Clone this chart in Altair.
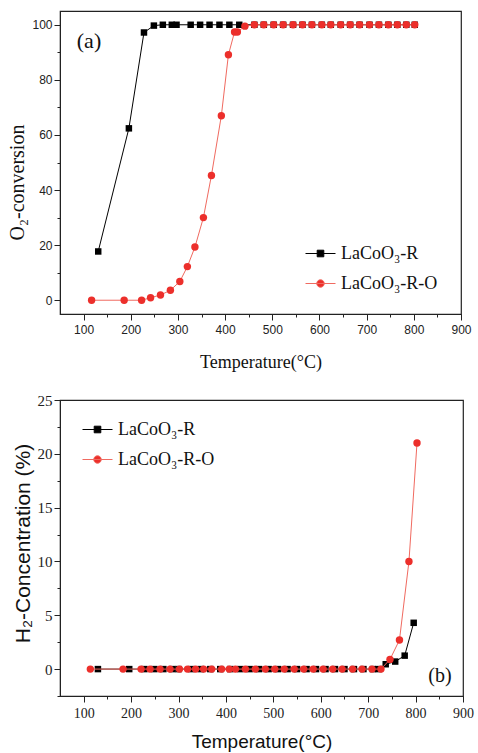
import altair as alt
import pandas as pd

SERIES = ["LaCoO₃-R", "LaCoO₃-R-O"]

# Panel (a): O2 conversion
a_r_temp = [131, 196, 228, 249, 268, 287, 297, 327, 347, 367, 388, 409, 430,
            462, 482, 503, 523, 544, 564, 584, 605, 624, 645, 665, 685, 706, 726, 746, 765, 784, 802]
a_r_conv = [17.7, 62.4, 97.2, 99.7, 100, 100, 100, 100, 100, 100, 100, 100, 100,
            100, 100, 100, 100, 100, 100, 100, 100, 100, 100, 100, 100, 100, 100, 100, 100, 100, 100]
a_ro_temp = [117, 186, 223, 242, 263, 284, 304, 320, 336, 354, 371, 392, 407, 420, 426, 442,
             462, 482, 503, 523, 544, 564, 584, 605, 624, 645, 665, 685, 706, 726, 746, 765, 784, 802]
a_ro_conv = [0, 0, 0, 0.9, 1.9, 3.6, 6.8, 12.2, 19.3, 30.0, 45.3, 67.0, 89.1, 97.4, 97.4, 99.5,
             100, 100, 100, 100, 100, 100, 100, 100, 100, 100, 100, 100, 100, 100, 100, 100, 100, 100]

# Panel (b): H2 concentration
b_r_temp = [130, 196, 228, 249, 268, 287, 300, 327, 347, 367, 388, 409, 430, 450, 470, 490,
            510, 530, 550, 570, 590, 610, 630, 650, 670, 690, 710, 722, 737, 757, 777, 796]
b_r_conc = [0, 0, 0, 0, 0, 0, 0, 0, 0, 0, 0, 0, 0, 0, 0, 0,
            0, 0, 0, 0, 0, 0, 0, 0, 0, 0, 0, 0, 0.45, 0.7, 1.25, 4.3]
b_ro_temp = [114, 183, 221, 240, 261, 282, 302, 319, 336, 353, 370, 391, 407, 420, 441, 462, 483,
             503, 523, 544, 564, 584, 605, 625, 645, 667, 687, 708, 727, 746, 766, 786, 803]
b_ro_conc = [0, 0, 0, 0, 0, 0, 0, 0, 0, 0, 0, 0, 0, 0, 0, 0, 0,
             0, 0, 0, 0, 0, 0, 0, 0, 0, 0, 0, 0, 0.9, 2.7, 10.0, 21.0]

x_major = [100, 200, 300, 400, 500, 600, 700, 800, 900]
x_minor = [150, 250, 350, 450, 550, 650, 750, 850]
ya_major = [0, 20, 40, 60, 80, 100]
ya_minor = [10, 30, 50, 70, 90]
yb_major = [0, 5, 10, 15, 20, 25]
yb_minor = [-2.5, 2.5, 7.5, 12.5, 17.5, 22.5]

SERIF = "Liberation Serif"
SANS = "Liberation Sans"
BLACK = "#000000"
RED = "#ec2f2b"
RED_LINE = "#f06a60"

SQ_PATH = "M-1,0H1M-0.22,-0.22H0.22V0.22H-0.22Z"
CI_PATH = "M-1,0H1M0.25,0A0.25,0.25 0 1,1 -0.25,0A0.25,0.25 0 1,1 0.25,0Z"


def frame(t, v):
    return pd.DataFrame({"T": t, "V": v})


def make_panel(r_t, r_v, ro_t, ro_v, ydom, ymaj, ymin, w, h, xtitle, ytitle,
               xfont, yfont, tickfont, xtsize, ytsize, ttlsize, ytitle_pad, xtitle_pad,
               legend_x, legend_y, legend_size, tag, tag_x, tag_y, tag_size, ytitle_y):
    xs = alt.Scale(domain=[50, 900], nice=False, zero=False)
    ys = alt.Scale(domain=ydom, nice=False, zero=False)
    color_scale = alt.Scale(domain=SERIES, range=[BLACK, RED])
    dr = frame(r_t, r_v).assign(S=SERIES[0])
    dro = frame(ro_t, ro_v).assign(S=SERIES[1])
    dall = pd.concat([dr, dro], ignore_index=True)

    legend = alt.Legend(
        title=None, orient="none", legendX=legend_x, legendY=legend_y,
        symbolSize=legend_size, symbolStrokeWidth=1, labelFont=SERIF,
        labelFontSize=18, labelColor="#111", labelOffset=5, rowPadding=5,
    )

    x_major_ax = alt.Axis(values=x_major, title=xtitle, titleFont=xfont, titleFontSize=ttlsize,
                          titleFontWeight="normal", titleColor="#111", titlePadding=xtitle_pad,
                          labelFont=tickfont, labelFontSize=xtsize, labelColor="#222",
                          tickSize=6, tickColor="#222", domainColor="#222", grid=False,
                          orient="bottom", labelPadding=4, labelFlush=False)
    y_major_ax = alt.Axis(values=ymaj, title=ytitle, titleFont=yfont, titleFontSize=ttlsize + 2,
                          titleFontWeight="normal", titleColor="#111", titlePadding=ytitle_pad,
                          labelFont=tickfont, labelFontSize=ytsize, labelColor="#222",
                          tickSize=6, tickColor="#222", domainColor="#222", grid=False,
                          orient="left", labelPadding=2, titleY=ytitle_y, labelFlush=False)
    x_minor_ax = alt.Axis(values=x_minor, title=None, labels=False, tickSize=3, tickColor="#222",
                          domain=False, grid=False, orient="bottom")
    y_minor_ax = alt.Axis(values=ymin, title=None, labels=False, tickSize=3, tickColor="#222",
                          domain=False, grid=False, orient="left")

    leg_layer = alt.Chart(dall).transform_filter("false").mark_point(
        filled=True, size=legend_size, opacity=1, strokeWidth=1
    ).encode(
        x=alt.X("T:Q", scale=xs, axis=None),
        y=alt.Y("V:Q", scale=ys, axis=None),
        color=alt.Color("S:N", scale=color_scale, legend=legend),
        stroke=alt.Stroke("S:N", scale=alt.Scale(domain=SERIES, range=[BLACK, RED_LINE]), legend=legend),
        shape=alt.Shape("S:N", scale=alt.Scale(domain=SERIES, range=[SQ_PATH, CI_PATH]), legend=legend),
    )
    line_r = alt.Chart(dr).mark_line(color=BLACK, strokeWidth=1).encode(
        x=alt.X("T:Q", scale=xs, axis=x_major_ax),
        y=alt.Y("V:Q", scale=ys, axis=y_major_ax),
    )
    pts_r = alt.Chart(dr).mark_point(shape="square", filled=True, size=42, opacity=1).encode(
        x=alt.X("T:Q", scale=xs, axis=x_minor_ax),
        y=alt.Y("V:Q", scale=ys, axis=y_minor_ax),
        color=alt.Color("S:N", scale=color_scale, legend=legend),
    )
    line_ro = alt.Chart(dro).mark_line(color=RED_LINE, strokeWidth=1).encode(
        x=alt.X("T:Q", scale=xs, axis=None),
        y=alt.Y("V:Q", scale=ys, axis=None),
    )
    pts_ro = alt.Chart(dro).mark_point(shape="circle", filled=True, size=55, opacity=1).encode(
        x=alt.X("T:Q", scale=xs, axis=None),
        y=alt.Y("V:Q", scale=ys, axis=None),
        color=alt.Color("S:N", scale=color_scale, legend=legend),
    )
    label = alt.Chart(pd.DataFrame({"t": [tag]})).mark_text(
        font=SERIF, fontSize=tag_size, color="#111", align="center", baseline="middle"
    ).encode(text="t:N", x=alt.value(tag_x), y=alt.value(tag_y))

    return alt.layer(leg_layer, line_r, pts_r, line_ro, pts_ro, label).resolve_axis(
        x="independent", y="independent"
    ).properties(width=w, height=h)


panel_a = make_panel(a_r_temp, a_r_conv, a_ro_temp, a_ro_conv, [-5, 105], ya_major, ya_minor,
                     401, 303, "Temperature(°C)", "O₂-conversion", SERIF, SERIF, SANS,
                     12, 12, 18, 4, 18, 245, 227, 900, "(a)", 29, 30, 22, 171)
panel_b = make_panel(b_r_temp, b_r_conc, b_ro_temp, b_ro_conc, [-2.5, 25], yb_major, yb_minor,
                     403, 296, "Temperature(°C)", "H₂-Concentration (%)", SANS, SANS, SERIF,
                     14, 15, 19, 4, 12, 22, 14, 900, "(b)", 380, 276, 20, 143)

chart = alt.vconcat(panel_a, panel_b, spacing=20, background="white").properties(
    padding={"top": 10, "left": 7, "right": 0, "bottom": 0}
).resolve_scale(color="independent", shape="independent", stroke="independent").configure_view(
    stroke="#222", strokeWidth=1.2
)

chart.save("out.html", embed_options={"renderer": "svg", "actions": False})
